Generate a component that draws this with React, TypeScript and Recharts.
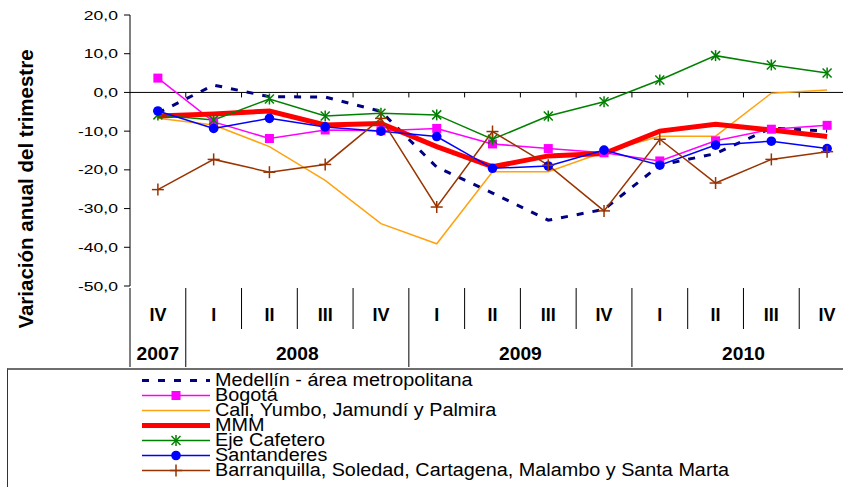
import React from "react";
import { LineChart, Line, XAxis, YAxis, ReferenceLine, Legend } from "recharts";

const quarters = ["IV", "I", "II", "III", "IV", "I", "II", "III", "IV", "I", "II", "III", "IV"];
const years = ["2007", "2008", "2009", "2010"];
const yearSpans = [1, 4, 4, 4];
const yTicks = [20, 10, 0, -10, -20, -30, -40, -50];

const medellin = [-5.3, 1.9, -1.1, -1.2, -4.9, -19.3, -26.0, -33.0, -30.2, -18.8, -15.8, -9.2, -10.0];
const bogota = [3.7, -7.6, -11.9, -9.7, -9.9, -9.3, -13.3, -14.5, -15.6, -17.7, -12.5, -9.5, -8.5];
const cali = [-6.7, -8.4, -14.0, -22.7, -33.9, -39.1, -20.5, -20.5, -15.4, -11.3, -11.3, -0.2, 0.6];
const mmm = [-6.1, -5.6, -4.8, -8.4, -8.0, -14.0, -19.2, -16.4, -15.8, -10.0, -8.2, -9.7, -11.4];
const eje = [-5.8, -7.1, -1.7, -6.1, -5.4, -5.8, -12.1, -6.1, -2.4, 3.2, 9.5, 7.1, 5.0];
const santanderes = [-4.8, -9.3, -6.7, -8.9, -10.0, -11.4, -19.6, -19.0, -14.9, -18.8, -13.6, -12.6, -14.5];
const barranquilla = [-25.1, -17.3, -20.6, -18.6, -6.7, -29.6, -10.1, -18.8, -30.6, -12.1, -23.4, -17.3, -15.3];

const seriesNames = [
  "Medellín - área metropolitana",
  "Bogotá",
  "Cali, Yumbo, Jamundí y Palmira",
  "MMM",
  "Eje Cafetero",
  "Santanderes",
  "Barranquilla, Soledad, Cartagena, Malambo y Santa Marta",
];

const data = quarters.map((q, i) => ({
  i,
  q,
  medellin: medellin[i],
  bogota: bogota[i],
  cali: cali[i],
  mmm: mmm[i],
  eje: eje[i],
  santanderes: santanderes[i],
  barranquilla: barranquilla[i],
}));

const FONT = '"Liberation Sans", Arial, sans-serif';
const CHART_W = 855;
const CHART_H = 487;
const Y_AXIS_W = 130;
const TOP = 15;
const PLOT_H = 271;
const Q_H = 41;
const YR_H = 38;
const BW = (CHART_W - Y_AXIS_W) / quarters.length;

// centre of each year group, in category units
const yearCenters = years.map((_, k) => {
  const start = yearSpans.slice(0, k).reduce((a, b) => a + b, 0);
  return start + (yearSpans[k] - 1) / 2;
});

const fmt = (v: number) => v.toFixed(1).replace(".", ",");

type Marker = "square" | "circle" | "star" | "plus" | null;

const seriesStyles: { key: string; color: string; width: number; dash?: string; marker: Marker }[] = [
  { key: "medellin", color: "#000080", width: 3, dash: "7 9", marker: null },
  { key: "bogota", color: "#FF00FF", width: 1.5, marker: "square" },
  { key: "cali", color: "#FFA20F", width: 1.5, marker: null },
  { key: "mmm", color: "#FF0000", width: 5, marker: null },
  { key: "eje", color: "#008000", width: 1.5, marker: "star" },
  { key: "santanderes", color: "#0000FF", width: 1.5, marker: "circle" },
  { key: "barranquilla", color: "#993300", width: 1.5, marker: "plus" },
];

function drawMarker(marker: Marker, color: string, cx: number, cy: number, key?: string) {
  if (marker === "square")
    return <rect key={key} x={cx - 4.5} y={cy - 4.5} width={9} height={9} fill={color} />;
  if (marker === "circle") return <circle key={key} cx={cx} cy={cy} r={4.8} fill={color} />;
  if (marker === "star")
    return (
      <g key={key} stroke={color} strokeWidth={1.5}>
        <line x1={cx} x2={cx} y1={cy - 5.5} y2={cy + 5.5} />
        <line x1={cx - 4.5} y1={cy - 4.5} x2={cx + 4.5} y2={cy + 4.5} />
        <line x1={cx - 4.5} y1={cy + 4.5} x2={cx + 4.5} y2={cy - 4.5} />
      </g>
    );
  if (marker === "plus")
    return (
      <g key={key} stroke={color} strokeWidth={1.5}>
        <line x1={cx - 6} x2={cx + 6} y1={cy} y2={cy} />
        <line x1={cx} x2={cx} y1={cy - 6} y2={cy + 6} />
      </g>
    );
  return <g key={key} />;
}

const QuarterTick = (props: any) => {
  const { x, y, payload } = props;
  return (
    <g>
      <line x1={x - BW / 2} x2={x - BW / 2} y1={y} y2={y + Q_H} stroke="#000" />
      <text x={x} y={y + 33} textAnchor="middle" fontSize={18} fontWeight="bold" fill="#000">
        {quarters[payload.value]}
      </text>
    </g>
  );
};

const YearTick = (props: any) => {
  const { x, y, payload } = props;
  const k = yearCenters.indexOf(payload.value);
  const left = x - (yearSpans[k] * BW) / 2;
  return (
    <g>
      <line x1={left} x2={left} y1={y} y2={y + YR_H} stroke="#000" />
      <text
        transform={`translate(${x},${y + 31}) scale(1.04,1)`}
        textAnchor="middle"
        fontSize={18.5}
        fontWeight="bold"
        fill="#000"
      >
        {years[k]}
      </text>
    </g>
  );
};

const YTick = (props: any) => {
  const { x, y, payload } = props;
  return (
    <text
      transform={`translate(${x},${y}) scale(1.35,1)`}
      textAnchor="end"
      dominantBaseline="central"
      fontSize={13}
      fill="#000"
    >
      {fmt(payload.value)}
    </text>
  );
};

const YTitle = () => (
  <text
    transform="translate(25,189) rotate(-90)"
    textAnchor="middle"
    dominantBaseline="central"
    fontSize={20.5}
    fontWeight="bold"
    fill="#000"
  >
    Variación anual del trimestre
  </text>
);

// zero line with small ticks at the category boundaries
const ZeroLine = (props: any) => {
  const { x1, y1, x2 } = props;
  return (
    <g>
      <line x1={x1} x2={x2} y1={y1} y2={y1} stroke="#000" strokeWidth={1} />
      {quarters.map((_, k) => (
        <line key={k} x1={x1 + (k + 1) * BW} x2={x1 + (k + 1) * BW} y1={y1} y2={y1 + 5} stroke="#000" />
      ))}
    </g>
  );
};

const LegendBox = () => (
  <div
    style={{
      width: "100%",
      height: "100%",
      boxSizing: "border-box",
      borderTop: "2px solid #6e6e6e",
      borderLeft: "1px solid #333",
      paddingTop: 3,
      paddingLeft: 133,
      fontFamily: FONT,
    }}
  >
    {seriesNames.map((name, k) => {
      const s = seriesStyles[k];
      return (
        <div key={name} style={{ display: "flex", alignItems: "center", height: 15 }}>
          <svg width={70} height={15} style={{ overflow: "visible", flexShrink: 0 }}>
            <line
              x1={1}
              x2={69}
              y1={7.5}
              y2={7.5}
              stroke={s.color}
              strokeWidth={s.width}
              strokeDasharray={s.dash}
            />
            {drawMarker(s.marker, s.color, 35, 7.5)}
          </svg>
          <span
            style={{
              marginLeft: 4,
              fontSize: 18,
              lineHeight: "15px",
              whiteSpace: "nowrap",
              color: "#000",
              display: "inline-block",
              transform: "scaleX(1.1)",
              transformOrigin: "left center",
            }}
          >
            {name}
          </span>
        </div>
      );
    })}
  </div>
);

export default function App() {
  return (
    <div
      style={{
        position: "absolute",
        left: 0,
        top: 0,
        width: 843,
        height: 487,
        overflow: "hidden",
        background: "#fff",
        fontFamily: FONT,
      }}
    >
      <LineChart
        width={CHART_W}
        height={CHART_H}
        data={data}
        margin={{ top: TOP, right: 0, left: 0, bottom: CHART_H - TOP - PLOT_H - Q_H - YR_H }}
      >
        <XAxis
          dataKey="i"
          type="number"
          domain={[-0.5, 12.5]}
          ticks={quarters.map((_, i) => i)}
          interval={0}
          height={Q_H}
          tickSize={0}
          tickLine={false}
          axisLine={false}
          tick={QuarterTick}
        />
        <XAxis
          xAxisId="year"
          dataKey="i"
          type="number"
          domain={[-0.5, 12.5]}
          ticks={yearCenters}
          interval={0}
          height={YR_H}
          tickSize={0}
          tickLine={false}
          axisLine={false}
          tick={YearTick}
        />
        <YAxis
          type="number"
          domain={[-50, 20]}
          ticks={yTicks}
          interval={0}
          width={Y_AXIS_W}
          tickSize={6}
          tickMargin={6}
          axisLine={{ stroke: "#000" }}
          tickLine={{ stroke: "#000" }}
          tick={YTick}
          label={YTitle}
        />
        <ReferenceLine y={0} stroke="#000" shape={ZeroLine} />
        {seriesStyles.map((s) => (
          <Line
            key={s.key}
            dataKey={s.key}
            type="linear"
            stroke={s.color}
            strokeWidth={s.width}
            strokeDasharray={s.dash}
            strokeLinecap="butt"
            isAnimationActive={false}
            dot={
              s.marker
                ? (p: any) => drawMarker(s.marker, s.color, p.cx, p.cy, `${s.key}-${p.index}`)
                : false
            }
            activeDot={false}
          />
        ))}
        <Legend
          verticalAlign="middle"
          layout="horizontal"
          content={LegendBox}
          wrapperStyle={{ left: 7, top: 368, width: 860, height: 130 }}
        />
      </LineChart>
    </div>
  );
}
